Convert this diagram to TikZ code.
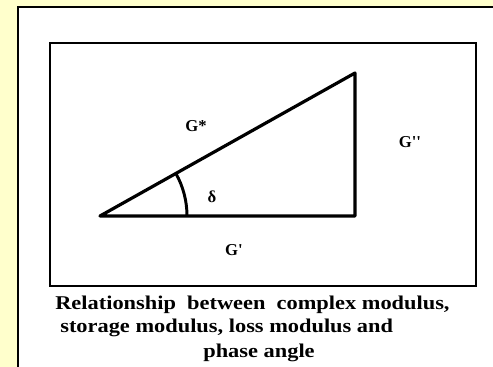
\documentclass[tikz,border=0pt]{standalone}
\usepackage{fontspec}
\setmainfont{Liberation Serif}
\definecolor{paleyellow}{HTML}{FFFFCC}

\begin{document}
\begin{tikzpicture}[x=0.75pt,y=-0.75pt,
    lbl/.style={font=\bfseries\fontsize{12.5}{14}\selectfont, inner sep=0pt},
    captext/.style={font=\bfseries\fontsize{14.6}{17}\selectfont, inner sep=0pt, xscale=1.15, transform shape}]
    % background and page frame
    \fill[paleyellow] (0,0) rectangle (493,367);
    \useasboundingbox (0,0) rectangle (493,367);
    \fill[white] (18,7) rectangle (493,367);
    \draw[line width=1.6pt] (18,367) -- (18,7) -- (493,7);
    % inner frame
    \draw[line width=1.3pt] (50,43) rectangle (476,286);
    % triangle
    \coordinate (A) at (100,216);
    \coordinate (B) at (355,216);
    \coordinate (C) at (355,73);
    \draw[line width=2.4pt, line join=round] (A) -- (B) -- (C) -- cycle;
    \draw[line width=2.2pt] ([shift={(0:87)}]A) arc[start angle=0, end angle=-29.3, radius=87];
    % labels
    \node[lbl] (gstar) at (196,126) {G*};
    \node[lbl] (gloss) at (410,142) {G\textquotesingle\textquotesingle};
    \node[lbl] (delta) at (212,197) {δ};
    \node[lbl] (gstor) at (234,250) {G\textquotesingle};
    % caption
    \node[captext, anchor=base west] (line1) at (55,310) {Relationship\ \ between\ \ complex modulus,};
    \node[captext, anchor=base west] (line2) at (60,332) {storage modulus, loss modulus and};
    \node[captext, anchor=base] (line3) at (259,357) {phase angle};
\end{tikzpicture}
\end{document}
